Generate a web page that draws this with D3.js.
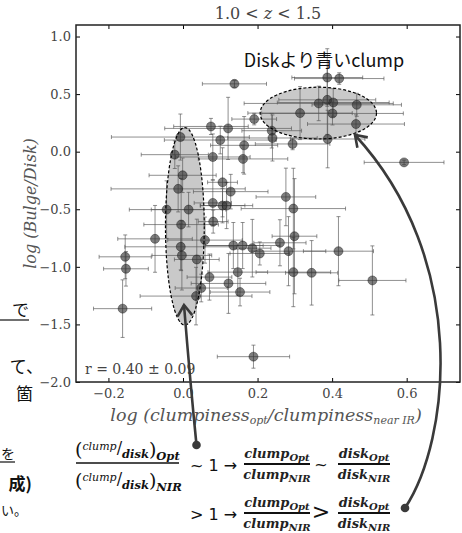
<!DOCTYPE html>
<html>
<head>
<meta charset="utf-8">
<script src="https://cdn.jsdelivr.net/npm/d3@7"></script>
<style>
  body { margin: 0; background: #fff; }
  svg { display: block; }
</style>
</head>
<body>
<svg id="chart"></svg>
<script>
// Data: log(clumpiness ratio) vs log(Bulge/Disk), 1.0 < z < 1.5
const xVals = [0.138, 0.387, 0.419, 0.364, 0.387, 0.403, 0.466, 0.314, 0.401, 0.464,
  0.191, 0.388, 0.294, 0.238, 0.240, 0.075, 0.121, 0.100, 0.164, -0.007,
  -0.022, 0.080, 0.161, 0.593, -0.001, 0.106, -0.013, 0.128, 0.276, 0.080,
  0.106, 0.117, -0.044, 0.015, 0.296, -0.005, 0.081, -0.075, 0.059, 0.299,
  0.260, -0.006, 0.135, 0.160, 0.186, 0.206, 0.283, 0.417, -0.155, -0.003,
  0.037, -0.153, 0.147, 0.071, 0.296, 0.345, 0.508, 0.122, 0.049, 0.153,
  0.035, -0.162, 0.189];
const yVals = [0.589, 0.644, 0.635, 0.419, 0.450, 0.427, 0.407, 0.335, 0.332, 0.240,
  0.283, 0.110, 0.067, 0.182, 0.119, 0.219, 0.202, 0.101, 0.055, 0.127,
  -0.026, -0.046, -0.063, -0.093, -0.205, -0.266, -0.323, -0.347, -0.393, -0.445,
  -0.468, -0.468, -0.503, -0.503, -0.494, -0.633, -0.607, -0.757, -0.768, -0.734,
  -0.791, -0.826, -0.815, -0.815, -0.838, -0.884, -0.864, -0.864, -0.913, -0.901,
  -0.936, -1.017, -1.046, -1.089, -1.046, -1.052, -1.118, -1.144, -1.184, -1.219,
  -1.254, -1.363, -1.780];
const xErr = [0.086, 0.095, 0.120, 0.200, 0.130, 0.150, 0.120, 0.140, 0.190, 0.130,
  0.060, 0.100, 0.100, 0.080, 0.120, 0.100, 0.170, 0.150, 0.090, 0.185,
  0.090, 0.100, 0.120, 0.107, 0.090, 0.040, 0.180, 0.100, 0.080, 0.050,
  0.060, 0.070, 0.100, 0.100, 0.140, 0.100, 0.040, 0.100, 0.100, 0.060,
  0.070, 0.150, 0.080, 0.100, 0.050, 0.080, 0.100, 0.094, 0.070, 0.080,
  0.060, 0.060, 0.080, 0.060, 0.100, 0.070, 0.090, 0.100, 0.070, 0.080,
  0.150, 0.078, 0.097];
const yErr = [0.03, 0.25, 0.05, 0.15, 0.30, 0.12, 0.10, 0.23, 0.10, 0.08,
  0.05, 0.25, 0.05, 0.15, 0.20, 0.07, 0.27, 0.12, 0.25, 0.20,
  0.12, 0.20, 0.12, 0.02, 0.15, 0.30, 0.20, 0.15, 0.25, 0.20,
  0.15, 0.20, 0.25, 0.15, 0.35, 0.40, 0.10, 0.29, 0.20, 0.50,
  0.20, 0.20, 0.20, 0.20, 0.25, 0.10, 0.30, 0.30, 0.19, 0.30,
  0.35, 0.15, 0.20, 0.20, 0.30, 0.28, 0.30, 0.26, 0.12, 0.12,
  0.25, 0.25, 0.10];

const xTicks = [-0.2, 0.0, 0.2, 0.4, 0.6];
const yTicks = [-2.0, -1.5, -1.0, -0.5, 0.0, 0.5, 1.0];

// Highlighted regions (centre x, centre y, half-width, half-height) in data units
const regionCx = [0.363, 0.005];
const regionCy = [0.335, -0.648];
const regionRx = [0.156, 0.052];
const regionRy = [0.225, 0.858];

// Layout
const WIDTH = 462, HEIGHT = 533;
const PLOT = { left: 76, top: 25, right: 460, bottom: 382 };
const MARK_COLOR = "#2e2e2e";
const ERR_COLOR = "#555";
const ARROW_COLOR = "#3a3a3a";
const SERIF = "'DejaVu Serif', 'Liberation Serif', serif";
const CJK = "'Noto Sans CJK JP', 'Noto Sans', sans-serif";
const fmt = d => d3.format(".1f")(d).replace("-", "\u2212");

const svg = d3.select("#chart")
  .attr("width", WIDTH)
  .attr("height", HEIGHT)
  .attr("viewBox", [0, 0, WIDTH, HEIGHT]);

const x = d3.scaleLinear().domain([-0.287, 0.743]).range([PLOT.left, PLOT.right]);
const y = d3.scaleLinear().domain([-2.0, 1.1]).range([PLOT.bottom, PLOT.top]);

svg.append("defs").append("clipPath").attr("id", "plotClip")
  .append("rect")
  .attr("x", PLOT.left).attr("y", PLOT.top)
  .attr("width", PLOT.right - PLOT.left).attr("height", PLOT.bottom - PLOT.top);

const plot = svg.append("g").attr("clip-path", "url(#plotClip)");

// Shaded regions under the data
plot.selectAll("ellipse.region")
  .data(d3.range(regionCx.length))
  .join("ellipse")
  .attr("class", "region")
  .attr("cx", i => x(regionCx[i]))
  .attr("cy", i => y(regionCy[i]))
  .attr("rx", i => x(regionCx[i] + regionRx[i]) - x(regionCx[i]))
  .attr("ry", i => y(regionCy[i] - regionRy[i]) - y(regionCy[i]))
  .attr("fill", "#c9c9c9")
  .attr("stroke", "none");

// Error bars
const points = d3.range(xVals.length);
const CAP = 2;
const err = plot.append("g")
  .attr("stroke", ERR_COLOR)
  .attr("stroke-opacity", 0.65)
  .attr("stroke-width", 1);

err.selectAll("g")
  .data(points)
  .join("g")
  .each(function (i) {
    const g = d3.select(this);
    const x0 = x(xVals[i] - xErr[i]), x1 = x(xVals[i] + xErr[i]);
    const y0 = y(yVals[i] - yErr[i]), y1 = y(yVals[i] + yErr[i]);
    const cx = x(xVals[i]), cy = y(yVals[i]);
    const path = d3.path();
    path.moveTo(x0, cy); path.lineTo(x1, cy);
    path.moveTo(cx, y0); path.lineTo(cx, y1);
    path.moveTo(x0, cy - CAP); path.lineTo(x0, cy + CAP);
    path.moveTo(x1, cy - CAP); path.lineTo(x1, cy + CAP);
    path.moveTo(cx - CAP, y0); path.lineTo(cx + CAP, y0);
    path.moveTo(cx - CAP, y1); path.lineTo(cx + CAP, y1);
    g.append("path").attr("d", path.toString()).attr("fill", "none");
  });

// Markers
plot.append("g")
  .selectAll("circle")
  .data(points)
  .join("circle")
  .attr("cx", i => x(xVals[i]))
  .attr("cy", i => y(yVals[i]))
  .attr("r", 4.5)
  .attr("fill", MARK_COLOR)
  .attr("fill-opacity", 0.62)
  .attr("stroke", "#111")
  .attr("stroke-opacity", 0.5)
  .attr("stroke-width", 0.8);

// Dashed outlines of the regions on top
plot.selectAll("ellipse.outline")
  .data(d3.range(regionCx.length))
  .join("ellipse")
  .attr("class", "outline")
  .attr("cx", i => x(regionCx[i]))
  .attr("cy", i => y(regionCy[i]))
  .attr("rx", i => x(regionCx[i] + regionRx[i]) - x(regionCx[i]))
  .attr("ry", i => y(regionCy[i] - regionRy[i]) - y(regionCy[i]))
  .attr("fill", "none")
  .attr("stroke", "#000")
  .attr("stroke-width", 1.2)
  .attr("stroke-dasharray", "3,2");

// Axes with inward ticks on all four sides
function styleAxis(g) {
  g.select(".domain").remove();
  g.selectAll(".tick line").attr("stroke", "#000").attr("stroke-width", 1);
  g.selectAll("text")
    .attr("font-family", SERIF)
    .attr("font-size", 13)
    .attr("fill", "#444");
}

svg.append("g")
  .attr("transform", `translate(0,${PLOT.bottom})`)
  .call(d3.axisBottom(x).tickValues(xTicks).tickFormat(fmt).tickSize(-4).tickPadding(7))
  .call(styleAxis);

svg.append("g")
  .attr("transform", `translate(0,${PLOT.top})`)
  .call(d3.axisTop(x).tickValues(xTicks).tickFormat("").tickSize(-4))
  .call(styleAxis);

svg.append("g")
  .attr("transform", `translate(${PLOT.left},0)`)
  .call(d3.axisLeft(y).tickValues(yTicks).tickFormat(fmt).tickSize(-4).tickPadding(5))
  .call(styleAxis);

svg.append("g")
  .attr("transform", `translate(${PLOT.right},0)`)
  .call(d3.axisRight(y).tickValues(yTicks).tickFormat("").tickSize(-4))
  .call(styleAxis);

svg.append("rect")
  .attr("x", PLOT.left).attr("y", PLOT.top)
  .attr("width", PLOT.right - PLOT.left).attr("height", PLOT.bottom - PLOT.top)
  .attr("fill", "none")
  .attr("stroke", "#222")
  .attr("stroke-width", 1.5);

// Title and axis labels
const title = svg.append("text")
  .attr("x", (PLOT.left + PLOT.right) / 2)
  .attr("y", 19)
  .attr("text-anchor", "middle")
  .attr("font-family", SERIF)
  .attr("font-size", 16)
  .attr("fill", "#444");
title.append("tspan").text("1.0 < ");
title.append("tspan").attr("font-style", "italic").text("z");
title.append("tspan").text(" < 1.5");

const xLabel = svg.append("text")
  .attr("x", (PLOT.left + PLOT.right) / 2 - 2)
  .attr("y", 421)
  .attr("text-anchor", "middle")
  .attr("font-family", SERIF)
  .attr("font-style", "italic")
  .attr("font-size", 17.5)
  .attr("fill", "#555");
xLabel.append("tspan").text("log (clumpiness");
xLabel.append("tspan").attr("font-size", 11).attr("dy", 3).text("opt");
xLabel.append("tspan").attr("dy", -3).text("/clumpiness");
xLabel.append("tspan").attr("font-size", 11).attr("dy", 3).text("near IR");
xLabel.append("tspan").attr("dy", -3).text(")");

svg.append("text")
  .attr("transform", `translate(36,${(PLOT.top + PLOT.bottom) / 2}) rotate(-90)`)
  .attr("text-anchor", "middle")
  .attr("font-family", SERIF)
  .attr("font-style", "italic")
  .attr("font-size", 16)
  .attr("fill", "#555")
  .text("log (Bulge/Disk)");

svg.append("text")
  .attr("x", 85)
  .attr("y", 374)
  .attr("font-family", SERIF)
  .attr("font-size", 14)
  .attr("fill", "#444")
  .text("r = 0.40 \u00b1 0.09");

svg.append("text")
  .attr("x", 324)
  .attr("y", 67)
  .attr("text-anchor", "middle")
  .attr("font-family", CJK)
  .attr("font-size", 18)
  .attr("fill", "#111")
  .text("Diskより青いclump");

// Curved arrows from the notes to the two regions
function arrow(d, tip, from) {
  svg.append("path")
    .attr("d", d)
    .attr("fill", "none")
    .attr("stroke", ARROW_COLOR)
    .attr("stroke-width", 2.6);
  const ang = Math.atan2(from[1] - tip[1], from[0] - tip[0]);
  const len = 13, spread = 0.6;
  const w1 = [tip[0] + len * Math.cos(ang + spread), tip[1] + len * Math.sin(ang + spread)];
  const w2 = [tip[0] + len * Math.cos(ang - spread), tip[1] + len * Math.sin(ang - spread)];
  svg.append("path")
    .attr("d", `M${w1}L${tip}L${w2}`)
    .attr("fill", "none")
    .attr("stroke", ARROW_COLOR)
    .attr("stroke-width", 2.6)
    .attr("stroke-linejoin", "miter");
}
arrow("M196.5,445 Q190,380 184,305", [184, 305], [187, 340]);
arrow("M405,508 C450,440 470,260 355,135", [355, 135], [372, 152]);
svg.append("circle").attr("cx", 196.5).attr("cy", 445).attr("r", 4.3).attr("fill", ARROW_COLOR);
svg.append("circle").attr("cx", 405).attr("cy", 508).attr("r", 4.3).attr("fill", ARROW_COLOR);

// Notes below the plot
const MATH = "'DejaVu Serif', serif";
const left = svg.append("g").attr("font-family", MATH).attr("font-style", "italic").attr("fill", "#111");
function ratio(yBase, sub) {
  const t = left.append("text").attr("x", 75).attr("y", yBase).attr("font-size", 19);
  t.append("tspan").attr("font-style", "normal").attr("font-weight", 300).text("(");
  t.append("tspan").attr("font-size", 11).attr("dy", -6).text("clump");
  t.append("tspan").attr("font-size", 16).attr("font-style", "normal").attr("dy", 3).text("/");
  t.append("tspan").attr("font-size", 11.5).attr("font-weight", "bold").attr("dy", 5).text("disk");
  t.append("tspan").attr("font-style", "normal").attr("dy", -2).text(")");
  t.append("tspan").attr("font-size", 11.5).attr("font-weight", "bold").attr("dy", 4).text(sub);
}
ratio(456, "Opt");
ratio(487, "NIR");
left.append("line").attr("x1", 76).attr("x2", 179).attr("y1", 463).attr("y2", 463)
  .attr("stroke", "#111").attr("stroke-width", 1.3);

const SANS = "'DejaVu Sans', 'Noto Sans', sans-serif";
function relation(yBar, rel, relSize) {
  svg.append("text").attr("x", 190).attr("y", yBar + 7)
    .attr("font-family", SANS).attr("font-size", 16).attr("fill", "#111")
    .text(rel + " 1 \u2192");
  frac(277, yBar, "clump", "Opt", "clump", "NIR", 66);
  svg.append("text").attr("x", 321).attr("y", yBar + 6)
    .attr("text-anchor", "middle").attr("font-family", SANS)
    .attr("font-size", relSize).attr("fill", "#111").text(rel);
  frac(364, yBar, "disk", "Opt", "disk", "NIR", 52);
}
function frac(cx, yBar, n, nSub, d, dSub, w) {
  const g = svg.append("g").attr("font-family", MATH).attr("font-style", "italic")
    .attr("font-weight", "bold").attr("fill", "#222");
  const top = g.append("text").attr("x", cx).attr("y", yBar - 6).attr("text-anchor", "middle").attr("font-size", 13);
  top.append("tspan").text(n);
  top.append("tspan").attr("font-size", 10).attr("dy", 3).text(nSub);
  const bot = g.append("text").attr("x", cx).attr("y", yBar + 15).attr("text-anchor", "middle").attr("font-size", 13);
  bot.append("tspan").text(d);
  bot.append("tspan").attr("font-size", 10).attr("dy", 3).text(dSub);
  g.append("line").attr("x1", cx - w / 2).attr("x2", cx + w / 2).attr("y1", yBar).attr("y2", yBar)
    .attr("stroke", "#111").attr("stroke-width", 1.8);
}
relation(464, "~", 16);
relation(513, ">", 22);

// Visible ends of slide text running off the left edge
const notes = svg.append("g").attr("font-family", CJK).attr("font-size", 17).attr("fill", "#111");
notes.append("text").attr("x", 29).attr("y", 316).attr("text-anchor", "end").text("で");
notes.append("text").attr("x", 43).attr("y", 373).attr("text-anchor", "end").text("て、");
notes.append("text").attr("x", 33).attr("y", 400).attr("text-anchor", "end").text("箇");
notes.append("text").attr("x", 1).attr("y", 459).attr("font-size", 14).text("を");
notes.append("text").attr("x", 32).attr("y", 490).attr("text-anchor", "end").attr("font-weight", "bold").text("成)");
notes.append("text").attr("x", 1).attr("y", 515).attr("font-size", 13).text("い。");
notes.append("line").attr("x1", 0).attr("x2", 29).attr("y1", 320).attr("y2", 320).attr("stroke", "#111").attr("stroke-width", 1.2);
notes.append("line").attr("x1", 0).attr("x2", 15).attr("y1", 462).attr("y2", 462).attr("stroke", "#111").attr("stroke-width", 1.2);
</script>
</body>
</html>
